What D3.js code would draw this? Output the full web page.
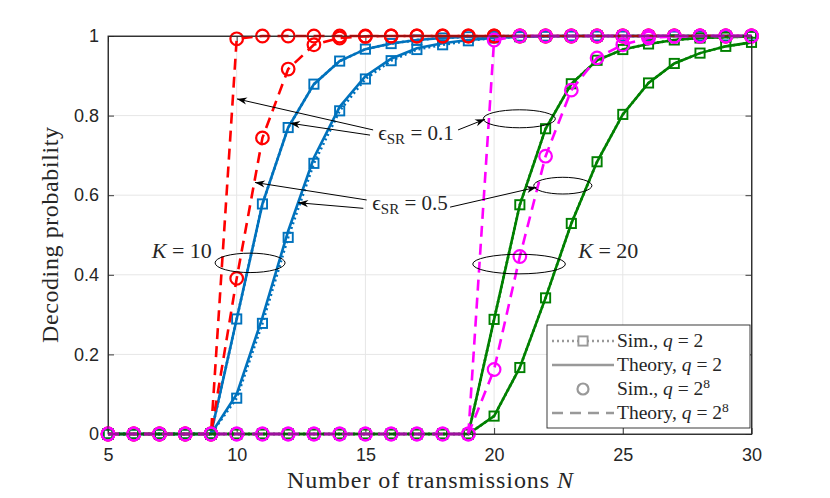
<!DOCTYPE html>
<html>
<head>
<meta charset="utf-8">
<script src="https://cdn.jsdelivr.net/npm/d3@7"></script>
<style>
  body { margin: 0; background: #fff; }
  text { fill: #262626; }
</style>
</head>
<body>
<div id="chart"></div>
<script>
// number of transmissions N (x categories)
var nValues = [5,6,7,8,9,10,11,12,13,14,15,16,17,18,19,20,21,22,23,24,25,26,27,28,29,30];
var xTicks = [5,10,15,20,25,30];
var yTicks = [0,0.2,0.4,0.6,0.8,1];

// K = 10, q = 2 (blue)
var k10q2e01 = [0,0,0,0,0, 0.289,0.578,0.770,0.879,0.937, 0.967,0.981,0.990,0.995,0.998, 0.999,1,1,1,1, 1,1,1,1,1, 1];
var k10q2e05Sim = [0,0,0,0,0, 0.090,0.278,0.494,0.680,0.812, 0.892,0.938,0.966,0.978,0.988, 0.995,0.998,0.999,1,1, 1,1,1,1,1, 1];
var k10q2e05Th = [0,0,0,0,0, 0.100,0.293,0.510,0.694,0.822, 0.899,0.943,0.969,0.982,0.990, 0.995,0.998,0.999,1,1, 1,1,1,1,1, 1];
// K = 10, q = 2^8 (red)
var k10q8e01 = [0,0,0,0,0, 0.993,1,1,1,1, 1,1,1,1,1, 1,1,1,1,1, 1,1,1,1,1, 1];
var k10q8e05 = [0,0,0,0,0, 0.391,0.744,0.917,0.978,0.995, 0.999,1,1,1,1, 1,1,1,1,1, 1,1,1,1,1, 1];
// K = 20, q = 2 (green)
var k20q2e01 = [0,0,0,0,0, 0,0,0,0,0, 0,0,0,0,0, 0.288,0.576,0.767,0.880,0.939, 0.966,0.980,0.990,0.995,0.997, 0.999];
var k20q2e05 = [0,0,0,0,0, 0,0,0,0,0, 0,0,0,0,0, 0.045,0.167,0.342,0.529,0.684, 0.803,0.882,0.931,0.957,0.974, 0.984];
// K = 20, q = 2^8 (magenta)
var k20q8e01 = [0,0,0,0,0, 0,0,0,0,0, 0,0,0,0,0, 0.990,1,1,1,1, 1,1,1,1,1, 1];
var k20q8e05 = [0,0,0,0,0, 0,0,0,0,0, 0,0,0,0,0, 0.162,0.446,0.698,0.864,0.945, 0.978,0.995,0.999,1,1, 1];

var legendLabels = [
  {name: "Sim., ", q: "2", sup: ""},
  {name: "Theory, ", q: "2", sup: ""},
  {name: "Sim., ", q: "2", sup: "8"},
  {name: "Theory, ", q: "2", sup: "8"}
];

// draw order: blue, red, green, magenta
var groups = [
  {color: "#0072BD", field: "q2", sim: k10q2e01, th: k10q2e01},
  {color: "#0072BD", field: "q2", sim: k10q2e05Sim, th: k10q2e05Th},
  {color: "#FF0000", field: "q8", sim: k10q8e01, th: k10q8e01},
  {color: "#FF0000", field: "q8", sim: k10q8e05, th: k10q8e05},
  {color: "#008000", field: "q2", sim: k20q2e01, th: k20q2e01},
  {color: "#008000", field: "q2", sim: k20q2e05, th: k20q2e05},
  {color: "#FF00FF", field: "q8", sim: k20q8e01, th: k20q8e01},
  {color: "#FF00FF", field: "q8", sim: k20q8e05, th: k20q8e05}
];

const margin = {top: 36, right: 78.5, bottom: 64, left: 108},
    W = 830, H = 498,
    width = W - margin.left - margin.right,
    height = H - margin.top - margin.bottom;

var svg = d3.select("#chart").append("svg")
    .attr("width", W).attr("height", H);

var defs = svg.append("defs");
defs.append("marker")
    .attr("id", "ahead")
    .attr("markerUnits", "userSpaceOnUse")
    .attr("viewBox", "-11 -5 12 10")
    .attr("refX", 0).attr("refY", 0)
    .attr("markerWidth", 12).attr("markerHeight", 10)
    .attr("orient", "auto")
    .append("path")
    .attr("d", "M0,0 L-10,-3.6 L-7,0 L-10,3.6 Z")
    .attr("fill", "#000");

var g = svg.append("g")
    .attr("transform", "translate(" + margin.left + "," + margin.top + ")");

var x = d3.scaleLinear().domain([5, 30]).range([0, width]);
var y = d3.scaleLinear().domain([0, 1]).range([height, 0]);

// grid
g.append("g").selectAll("line").data(xTicks.slice(1, -1)).enter().append("line")
    .attr("x1", d => x(d)).attr("x2", d => x(d))
    .attr("y1", 0).attr("y2", height)
    .attr("stroke", "#e6e6e6").attr("stroke-width", 1);
g.append("g").selectAll("line").data(yTicks.slice(1, -1)).enter().append("line")
    .attr("y1", d => y(d)).attr("y2", d => y(d))
    .attr("x1", 0).attr("x2", width)
    .attr("stroke", "#e6e6e6").attr("stroke-width", 1);

// axes (MATLAB style, inward ticks)
function styleAxis(sel) {
  sel.attr("font-size", null).attr("font-family", null);
  sel.select(".domain").attr("stroke", "#262626").attr("stroke-width", 0.9);
  sel.selectAll(".tick line").attr("stroke", "#262626").attr("stroke-width", 0.9);
  sel.selectAll("text").style("font-family", "'Liberation Sans', Arial, sans-serif")
     .style("font-size", "18px").attr("fill", "#262626");
}
var xAxis = g.append("g").attr("transform", "translate(0," + height + ")")
    .call(d3.axisBottom(x).tickValues(xTicks).tickFormat(d3.format("d")).tickSizeInner(-6).tickSizeOuter(0).tickPadding(14));
styleAxis(xAxis);
var xTop = g.append("g")
    .call(d3.axisTop(x).tickValues(xTicks).tickFormat("").tickSizeInner(-6).tickSizeOuter(0));
styleAxis(xTop);
var yAxis = g.append("g")
    .call(d3.axisLeft(y).tickValues(yTicks).tickFormat(d3.format("")).tickSizeInner(-6).tickSizeOuter(0).tickPadding(9));
styleAxis(yAxis);
var yRight = g.append("g").attr("transform", "translate(" + width + ",0)")
    .call(d3.axisRight(y).tickValues(yTicks).tickFormat("").tickSizeInner(-6).tickSizeOuter(0));
styleAxis(yRight);

// series
var line = d3.line().x((d, i) => x(nValues[i])).y(d => y(d));

groups.forEach(function (s) {
  if (s.field === "q2") {
    // simulation: dotted + squares
    g.append("path").datum(s.sim).attr("d", line)
      .attr("fill", "none").attr("stroke", s.color)
      .attr("stroke-width", 2.6).attr("stroke-dasharray", "2,3");
    g.append("g").selectAll("rect").data(s.sim).enter().append("rect")
      .attr("x", (d, i) => x(nValues[i]) - 4.6)
      .attr("y", d => y(d) - 4.6)
      .attr("width", 9.2).attr("height", 9.2)
      .attr("fill", "none").attr("stroke", s.color).attr("stroke-width", 1.9);
    // theory: solid
    g.append("path").datum(s.th).attr("d", line)
      .attr("fill", "none").attr("stroke", s.color).attr("stroke-width", 2.6);
  } else {
    // theory: dashed
    g.append("path").datum(s.th).attr("d", line)
      .attr("fill", "none").attr("stroke", s.color)
      .attr("stroke-width", 2.6).attr("stroke-dasharray", "11,7");
    // simulation: circles
    g.append("g").selectAll("circle").data(s.sim).enter().append("circle")
      .attr("cx", (d, i) => x(nValues[i]))
      .attr("cy", d => y(d))
      .attr("r", 6.3)
      .attr("fill", "none").attr("stroke", s.color).attr("stroke-width", 2.2);
  }
});

// box on top
g.append("rect").attr("width", width).attr("height", height)
  .attr("fill", "none").attr("stroke", "#262626").attr("stroke-width", 0.9);

// annotations (data coordinates)
var serif = "'Liberation Serif', 'DejaVu Serif', serif";
var arrows = [
  [15.30, 0.764, 10.01, 0.842],
  [15.18, 0.751, 12.07, 0.781],
  [18.60, 0.764, 19.65, 0.791],
  [15.05, 0.588, 10.71, 0.632],
  [14.92, 0.567, 12.39, 0.581],
  [18.29, 0.570, 21.65, 0.620]
];
var ellipses = [
  [20.98, 0.792, 1.40, 0.0226],
  [22.67, 0.624, 1.13, 0.021],
  [10.52, 0.430, 1.36, 0.0244],
  [20.97, 0.427, 1.80, 0.0246]
];
g.append("g").selectAll("line").data(arrows).enter().append("line")
  .attr("x1", d => x(d[0])).attr("y1", d => y(d[1]))
  .attr("x2", d => x(d[2])).attr("y2", d => y(d[3]))
  .attr("stroke", "#000").attr("stroke-width", 1)
  .attr("marker-end", "url(#ahead)");
g.append("g").selectAll("ellipse").data(ellipses).enter().append("ellipse")
  .attr("cx", d => x(d[0])).attr("cy", d => y(d[1]))
  .attr("rx", d => x(5 + d[2]) - x(5)).attr("ry", d => y(0) - y(d[3]))
  .attr("fill", "none").attr("stroke", "#000").attr("stroke-width", 1);

function epsLabel(xv, yv, val) {
  var t = g.append("text").attr("x", x(xv)).attr("y", y(yv))
    .style("font-family", serif).style("font-size", "21px").attr("fill", "#000");
  t.append("tspan").text("\u03F5");
  t.append("tspan").attr("dy", 4).style("font-size", "15px").text("SR");
  t.append("tspan").attr("dy", -4).text(" = " + val);
}
epsLabel(15.50, 0.739, "0.1");
epsLabel(15.27, 0.563, "0.5");

function kLabel(xv, yv, val) {
  var t = g.append("text").attr("x", x(xv)).attr("y", y(yv))
    .style("font-family", serif).style("font-size", "22px").attr("fill", "#000");
  t.append("tspan").style("font-style", "italic").text("K");
  t.append("tspan").text(" = " + val);
}
kLabel(6.70, 0.442, "10");
kLabel(23.27, 0.442, "20");

// legend
var lg = svg.append("g").attr("transform", "translate(547,325)");
lg.append("rect").attr("width", 203).attr("height", 103)
  .attr("fill", "#fff").attr("stroke", "#262626").attr("stroke-width", 0.9);
var rowY = [16, 40, 64, 88];
var gray = "#999";
lg.append("line").attr("x1", 5).attr("x2", 67).attr("y1", rowY[0]).attr("y2", rowY[0])
  .attr("stroke", gray).attr("stroke-width", 2.6).attr("stroke-dasharray", "2,3");
lg.append("rect").attr("x", 31.4).attr("y", rowY[0] - 4.6).attr("width", 9.2).attr("height", 9.2)
  .attr("fill", "#fff").attr("stroke", gray).attr("stroke-width", 1.9);
lg.append("line").attr("x1", 5).attr("x2", 67).attr("y1", rowY[1]).attr("y2", rowY[1])
  .attr("stroke", gray).attr("stroke-width", 2.6);
lg.append("circle").attr("cx", 36).attr("cy", rowY[2]).attr("r", 5.5)
  .attr("fill", "none").attr("stroke", gray).attr("stroke-width", 2.2);
lg.append("line").attr("x1", 5).attr("x2", 67).attr("y1", rowY[3]).attr("y2", rowY[3])
  .attr("stroke", gray).attr("stroke-width", 2.6).attr("stroke-dasharray", "11,7");
legendLabels.forEach(function (d, i) {
  var t = lg.append("text").attr("x", 70).attr("y", rowY[i] + 6)
    .style("font-family", serif).style("font-size", "19.5px").attr("fill", "#000");
  t.append("tspan").text(d.name);
  t.append("tspan").style("font-style", "italic").text("q");
  t.append("tspan").text(" = " + d.q);
  if (d.sup) t.append("tspan").attr("dy", -7).style("font-size", "13.5px").text(d.sup);
});

// axis labels
var xl = svg.append("text").attr("x", 287).attr("y", 488)
  .attr("textLength", 286).attr("lengthAdjust", "spacing")
  .style("font-family", serif).style("font-size", "24px").attr("fill", "#000");
xl.append("tspan").text("Number of transmissions ");
xl.append("tspan").style("font-style", "italic").text("N");

svg.append("text")
  .attr("transform", "translate(58,343) rotate(-90)")
  .attr("textLength", 216).attr("lengthAdjust", "spacing")
  .style("font-family", serif).style("font-size", "24px").attr("fill", "#000")
  .text("Decoding probability");
</script>
</body>
</html>
